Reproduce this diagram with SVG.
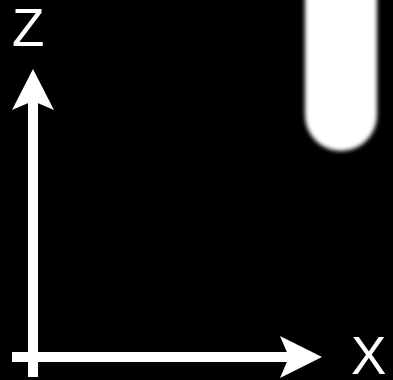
<svg xmlns="http://www.w3.org/2000/svg" width="393" height="380" viewBox="0 0 393 380">
<defs>
<style>
.lbl{font-family:"Liberation Sans",Arial,sans-serif;font-size:53px;fill:#fff}
.ax{stroke:#fff;stroke-width:10;fill:none}
.head{fill:#fff}
</style>
<filter id="blur" x="-20%" y="-20%" width="140%" height="140%"><feGaussianBlur stdDeviation="2.2"/></filter>
</defs>
<rect width="393" height="380" fill="#000"/>
<g id="probe"><rect x="305" y="-60" width="72" height="211" rx="36" ry="36" fill="#fff" filter="url(#blur)"/></g>
<g id="axes">
<line class="ax" x1="33" y1="377" x2="33" y2="100"/>
<line class="ax" x1="12" y1="357" x2="292" y2="357"/>
<polygon class="head" points="33,69 54,110 33,101 12,110"/>
<polygon class="head" points="322,357 280,336 289,357 280,378"/>
</g>
<g id="labels">
<text class="lbl" x="12" y="46">Z</text>
<text class="lbl" x="351" y="374">X</text>
</g>
</svg>
